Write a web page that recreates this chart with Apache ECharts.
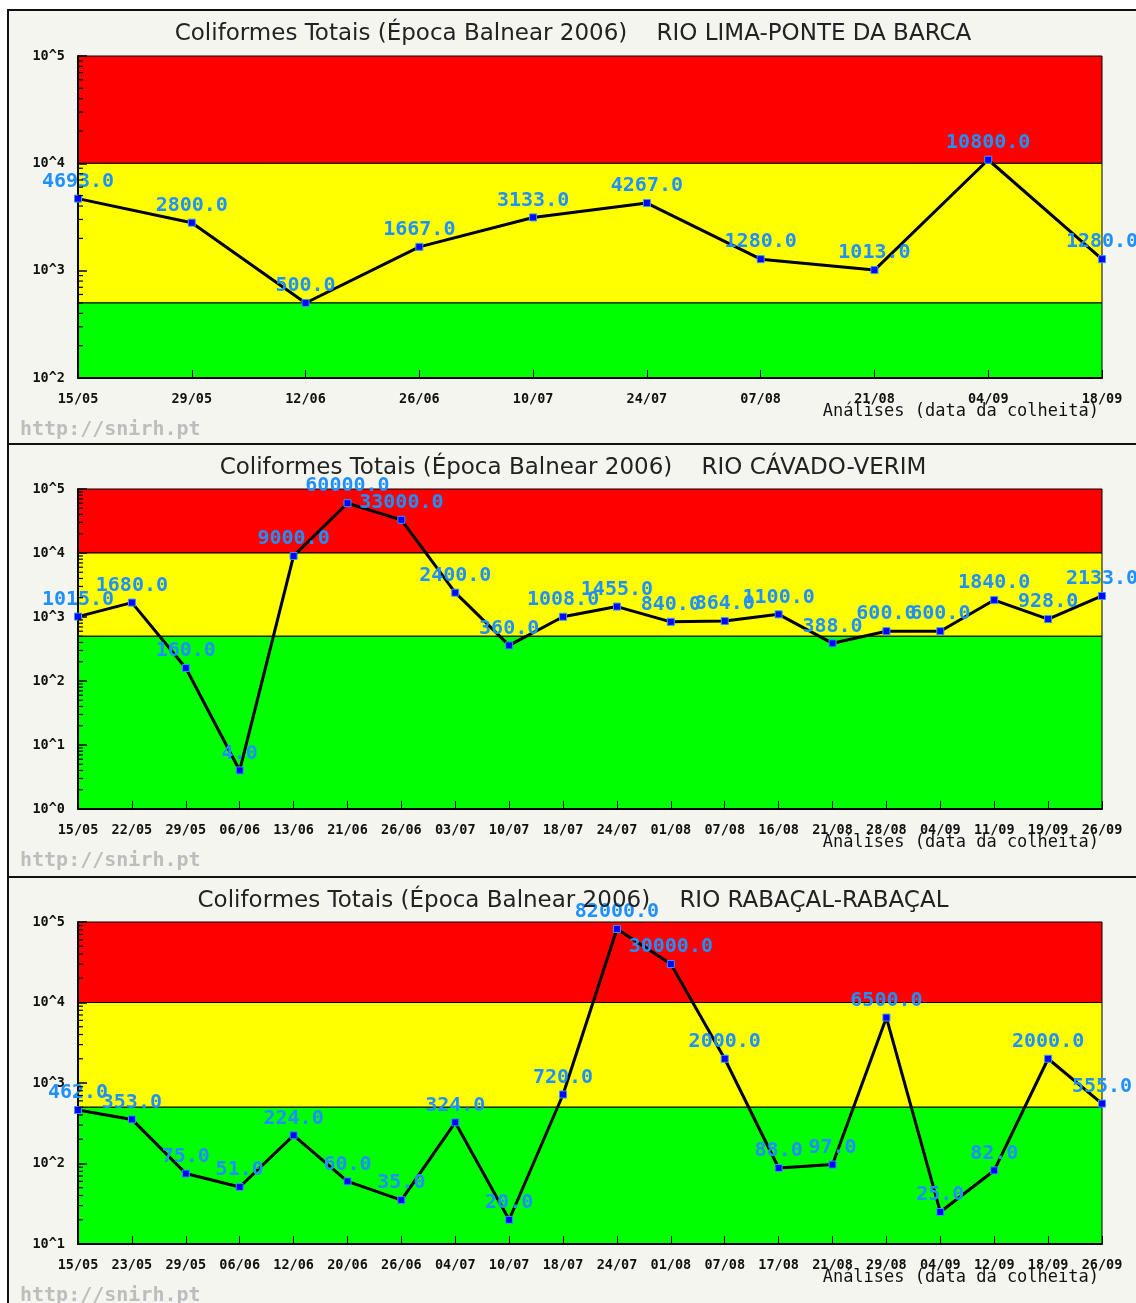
<!DOCTYPE html>
<html><head><meta charset="utf-8">
<script src="https://cdn.jsdelivr.net/npm/echarts@6/dist/echarts.min.js"></script>
<style>html,body{margin:0;padding:0;background:#fff;} #c{width:1136px;height:1303px;}</style>
</head><body><div id="c"></div>
<script>
// ---- data ----
const titleMain = 'Coliformes Totais (Época Balnear 2006)    ';
const stations = ['RIO LIMA-PONTE DA BARCA', 'RIO CÁVADO-VERIM', 'RIO RABAÇAL-RABAÇAL'];
const xAxisName = 'Análises (data da colheita)';
const watermark = 'http://snirh.pt';

const dates1 = ['15/05','29/05','12/06','26/06','10/07','24/07','07/08','21/08','04/09','18/09'];
const values1 = [4693,2800,500,1667,3133,4267,1280,1013,10800,1280];

const dates2 = ['15/05','22/05','29/05','06/06','13/06','21/06','26/06','03/07','10/07','18/07','24/07','01/08','07/08','16/08','21/08','28/08','04/09','11/09','19/09','26/09'];
const values2 = [1015,1680,160,4,9000,60000,33000,2400,360,1008,1455,840,864,1100,388,600,600,1840,928,2133];

const dates3 = ['15/05','23/05','29/05','06/06','12/06','20/06','26/06','04/07','10/07','18/07','24/07','01/08','07/08','17/08','21/08','29/08','04/09','12/09','18/09','26/09'];
const values3 = [462,353,75,51,224,60,35,324,20,720,82000,30000,2000,88,97,6500,25,82,2000,555];

const yTickLabels1 = ['10^2','10^3','10^4','10^5'];
const yTickLabels2 = ['10^0','10^1','10^2','10^3','10^4','10^5'];
const yTickLabels3 = ['10^1','10^2','10^3','10^4','10^5'];
const minorTickSteps = [2,3,4,5,6,7,8,9]; // log-axis minor tick multipliers

const limitGreen = 500;    // green / yellow boundary
const limitYellow = 10000; // yellow / red boundary

// ---- layout ----
const panels = [
  {top: 10, h: 434, gridTop: 56, gridH: 322, dates: dates1, values: values1, ticks: yTickLabels1, min: 100},
  {top: 444, h: 433, gridTop: 489, gridH: 320, dates: dates2, values: values2, ticks: yTickLabels2, min: 1},
  {top: 877, h: 440, gridTop: 922, gridH: 322, dates: dates3, values: values3, ticks: yTickLabels3, min: 10}
];

const mono = '"DejaVu Sans Mono", monospace';
const grids = [], xAxes = [], yAxes = [], series = [], graphics = [];

panels.forEach((p, i) => {
  graphics.push({type:'rect', z:-10, shape:{x:8, y:p.top, width:1140, height:p.h},
    style:{fill:'#f5f5f0', stroke:'#111', lineWidth:2}});
  graphics.push({type:'text', z:5, x:573, y:p.top+24,
    style:{text:titleMain + stations[i], font:'23px "DejaVu Sans", sans-serif', fill:'#222',
      textAlign:'center', textVerticalAlign:'middle', verticalAlign:'middle'}});
  graphics.push({type:'text', z:5, x:1099, y:p.gridTop+p.gridH+34,
    style:{text:xAxisName, font:'17px '+mono, fill:'#111',
      textAlign:'right', textVerticalAlign:'middle', verticalAlign:'middle'}});
  graphics.push({type:'text', z:5, x:20, y:p.gridTop+p.gridH+52,
    style:{text:watermark, font:'bold 20px '+mono, fill:'#bdbdbd',
      textAlign:'left', textVerticalAlign:'middle', verticalAlign:'middle'}});

  grids.push({left:78, width:1024, top:p.gridTop, height:p.gridH, containLabel:false, outerBoundsMode:'none'});
  xAxes.push({type:'category', gridIndex:i, data:p.dates, boundaryGap:false,
    axisLine:{lineStyle:{color:'#000', width:2}},
    axisTick:{inside:true, length:8, lineStyle:{color:'#000', width:1}},
    axisLabel:{color:'#111', fontFamily:mono, fontWeight:'bold', fontSize:13.5, margin:14, interval:0},
    splitLine:{show:false}, z:3});
  const tickLabels = p.ticks;
  yAxes.push({type:'log', gridIndex:i, logBase:10, min:p.min, max:100000,
    axisLine:{show:true, lineStyle:{color:'#000', width:2}},
    axisTick:{show:true, inside:true, length:9, lineStyle:{color:'#000', width:1.5}},
    axisLabel:{color:'#111', fontFamily:mono, fontWeight:'bold', fontSize:13.5, margin:13,
      formatter: v => tickLabels[Math.round(Math.log10(v) - Math.log10(p.min))]},
    splitLine:{show:false}, z:3});

  // minor ticks of the log axis (2..9 x 10^n), drawn through the axis scale
  const minorVals = [];
  for (let d = 0; d < tickLabels.length - 1; d++) {
    const base = p.min * Math.pow(10, d);
    minorTickSteps.forEach(m => minorVals.push(base * m));
  }
  series.push({type:'custom', xAxisIndex:i, yAxisIndex:i, data:minorVals.map(v => [0, v]),
    silent:true, animation:false, z:5, clip:false,
    renderItem: (params, api) => {
      const pt = api.coord([0, api.value(1)]);
      return {type:'line', shape:{x1:pt[0], y1:pt[1], x2:pt[0]+5, y2:pt[1]},
        style:{stroke:'#000', lineWidth:1.2}};
    }});

  series.push({type:'line', xAxisIndex:i, yAxisIndex:i, data:p.values,
    symbol:'rect', symbolSize:7, showAllSymbol:true,
    lineStyle:{color:'#000', width:3},
    itemStyle:{color:'#0000ff', borderColor:'#3399ff', borderWidth:1},
    label:{show:true, position:'top', distance:3, color:'#1e90ff', fontFamily:mono, fontWeight:'bold', fontSize:20,
      formatter: d => d.value.toFixed(1)},
    emphasis:{disabled:true}, animation:false, z:4,
    markArea:{silent:true, data:[
      [{yAxis:limitYellow, itemStyle:{color:'#ff0000', borderColor:'#000', borderWidth:1}}, {yAxis:100000}],
      [{yAxis:limitGreen, itemStyle:{color:'#ffff00', borderColor:'#000', borderWidth:1}}, {yAxis:limitYellow}],
      [{yAxis:p.min, itemStyle:{color:'#00ff00', borderColor:'#000', borderWidth:1}}, {yAxis:limitGreen}]
    ]}
  });
});

const chart = echarts.init(document.getElementById('c'), null, {renderer:'canvas'});
chart.setOption({
  backgroundColor:'#ffffff', animation:false,
  graphic: graphics, grid: grids, xAxis: xAxes, yAxis: yAxes, series: series
});
</script></body></html>
